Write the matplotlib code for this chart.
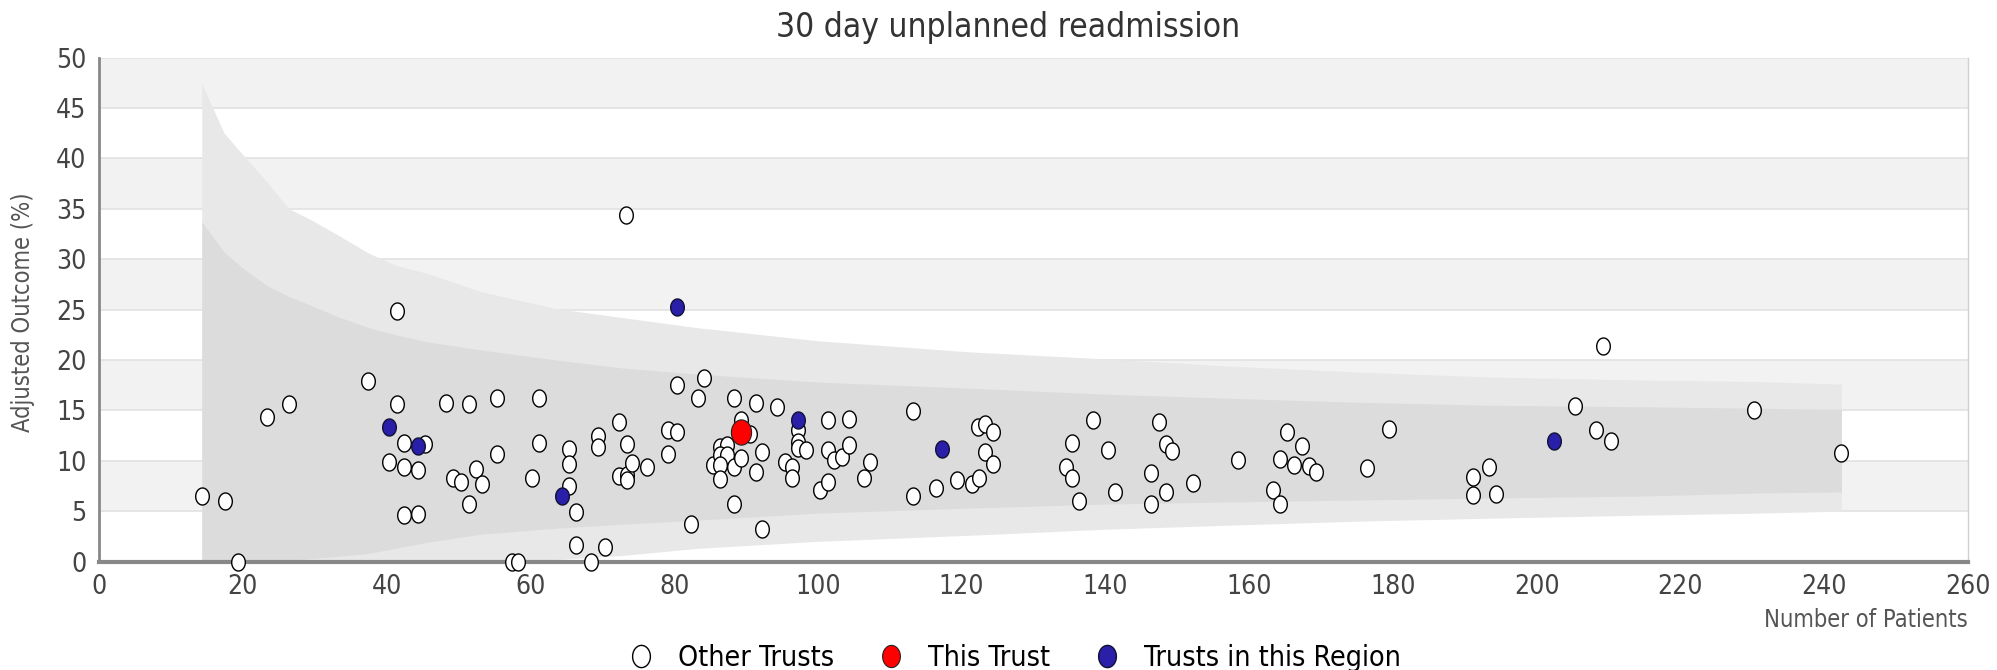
import numpy as np
import matplotlib.pyplot as plt
from matplotlib.path import Path
from matplotlib.lines import Line2D

# funnel limits (number of patients vs adjusted outcome %)
funnel_x = [14.3, 17.4, 20.2, 23.3, 26.4, 29.5, 33.2, 37.5, 41.2, 45.6, 53, 63.5, 72.8,
            83.2, 100, 121, 140, 157, 175, 193.6, 215, 231, 242.4]
outer_hi = [47.4, 42.5, 40.2, 37.7, 35.0, 33.9, 32.4, 30.6, 29.4, 28.6, 26.8, 25.1, 24.2,
            23.2, 21.9, 20.8, 20.1, 19.4, 18.8, 18.3, 18.0, 17.85, 17.6]
inner_hi = [33.7, 30.7, 29.0, 27.4, 26.3, 25.4, 24.3, 23.2, 22.5, 21.8, 21.0, 20.0, 19.2,
            18.6, 17.8, 17.2, 16.6, 16.2, 15.8, 15.5, 15.35, 15.2, 15.1]
inner_lo = [0, 0, 0, 0, 0.1, 0.3, 0.5, 0.8, 1.3, 1.9, 2.7, 3.3, 3.7,
            4.1, 4.8, 5.3, 5.7, 5.9, 6.1, 6.3, 6.5, 6.8, 6.9]
outer_lo = [0, 0, 0, 0, 0, 0, 0, 0, 0, 0, 0, 0.2, 0.6,
            1.3, 2.0, 2.6, 3.2, 3.6, 4.0, 4.3, 4.6, 4.8, 5.0]

other_x = [14.3, 17.5, 19.4, 23.4, 26.4, 37.4, 41.4, 41.4, 42.4, 45.3, 40.3, 42.4, 44.4, 42.4, 44.4,
           48.3, 51.5, 55.4, 61.2, 49.3, 50.3, 52.4, 53.3, 51.5, 55.4, 57.4, 58.3, 60.3, 61.2, 65.4,
           65.4, 65.4, 66.3, 66.3, 68.4, 69.4, 69.4, 70.4, 72.4, 72.3, 73.4, 73.4, 73.3, 73.4, 74.2,
           76.3, 79.1, 80.4, 79.2, 80.4, 82.4, 83.3, 84.2, 85.4, 86.4, 87.3, 86.4, 87.3, 86.4, 86.4,
           88.4, 88.4, 88.4, 89.3, 89.3, 90.5, 91.4, 91.4, 92.3, 92.3, 94.3, 95.5, 96.4, 96.4, 97.3,
           97.3, 97.3, 98.4, 100.3, 101.4, 101.4, 101.4, 102.3, 103.4, 104.4, 104.4, 106.4, 107.3,
           113.3, 113.3, 116.4, 119.4, 121.4, 122.4, 122.3, 123.2, 124.4, 123.2, 124.4, 134.5,
           135.4, 135.4, 136.3, 138.3, 140.4, 141.3, 146.3, 146.3, 147.4, 148.4, 148.4, 149.3,
           152.2, 158.5, 163.3, 164.3, 164.3, 165.2, 166.3, 167.3, 168.3, 169.3, 176.4, 179.4,
           191.2, 191.2, 193.3, 194.4, 205.3, 208.2, 209.2, 210.3, 230.2, 242.3]
other_y = [6.5, 6.0, 0.0, 14.3, 15.6, 17.9, 24.9, 15.6, 11.8, 11.65, 9.9, 9.4, 9.1, 4.6, 4.7,
           15.75, 15.6, 16.2, 16.2, 8.3, 7.9, 9.2, 7.7, 5.7, 10.7, 0.0, 0.0, 8.3, 11.8, 11.2,
           9.7, 7.5, 4.9, 1.6, 0.0, 12.5, 11.4, 1.4, 13.8, 8.5, 8.6, 8.1, 34.4, 11.7, 9.75,
           9.4, 13.0, 12.8, 10.7, 17.5, 3.7, 16.2, 18.2, 9.6, 11.4, 11.55, 10.6, 10.6, 9.6, 8.15,
           9.35, 16.2, 5.7, 14.0, 10.3, 12.65, 15.75, 8.9, 10.9, 3.2, 15.3, 9.9, 9.4, 8.25, 13.0,
           11.9, 11.3, 11.05, 7.1, 14.0, 11.05, 7.9, 10.1, 10.4, 14.1, 11.55, 8.25, 9.9,
           14.96, 6.5, 7.3, 8.1, 7.65, 8.3, 13.3, 13.6, 12.8, 10.9, 9.7, 9.35,
           8.25, 11.8, 6.0, 14.0, 11.05, 6.9, 8.75, 5.7, 13.8, 11.7, 6.9, 11.0,
           7.8, 10.1, 7.1, 10.2, 5.7, 12.8, 9.6, 11.5, 9.5, 8.9, 9.25, 13.1,
           8.4, 6.6, 9.4, 6.7, 15.4, 13.0, 21.4, 12.0, 15.0, 10.8]

region_x = [40.3, 44.4, 64.4, 80.4, 97.3, 117.3, 202.4]
region_y = [13.3, 11.5, 6.5, 25.2, 14.0, 11.2, 12.0]

this_x = [89.3]
this_y = [12.8]

xticks = list(range(0, 261, 20))
yticks = list(range(0, 51, 5))

plt.rcParams['font.family'] = ['DejaVu Sans']
plt.rcParams['font.stretch'] = 'condensed'

fig = plt.figure(figsize=(19.97, 6.7), dpi=100)
ax = fig.add_axes([99 / 1997, 108.5 / 670, 1869 / 1997, 504 / 670])

# alternating bands
for lo in range(5, 50, 10):
    ax.axhspan(lo, lo + 5, color='#f2f2f2', lw=0, zorder=0)
for y in yticks[1:]:
    ax.axhline(y, color='#e2e2e2', lw=1.2, zorder=0.5)

ax.fill_between(funnel_x, outer_lo, outer_hi, color='#e8e8e8', lw=0, zorder=1)
ax.fill_between(funnel_x, inner_lo, inner_hi, color='#dcdcdc', lw=0, zorder=1.1)

# slightly narrow round markers
t = np.linspace(0, 2 * np.pi, 60)
oval = Path(np.column_stack([0.8 * np.cos(t), np.sin(t)]), closed=True)

ax.scatter(other_x, other_y, s=150, marker=oval, facecolor='white', edgecolor='black',
           linewidth=1.0, zorder=3, clip_on=False)
ax.scatter(this_x, this_y, s=330, marker=oval, facecolor='#ff0000', edgecolor='#222222',
           linewidth=0.8, zorder=4)
ax.scatter(region_x, region_y, s=150, marker=oval, facecolor='#2a1fa8', edgecolor='#111133',
           linewidth=1.0, zorder=3)

ax.set_xlim(0, 260)
ax.set_ylim(0, 50)
ax.set_xticks(xticks)
ax.set_yticks(yticks)
ax.tick_params(length=0, labelsize=19, colors='#444444')
ax.tick_params(axis='x', pad=9)
ax.tick_params(axis='y', pad=9)

ax.spines['top'].set_visible(False)
ax.spines['right'].set_color('#d0d0d0')
ax.spines['right'].set_linewidth(1)
ax.spines['left'].set_color('#888888')
ax.spines['left'].set_linewidth(2)
ax.spines['bottom'].set_color('#888888')
ax.spines['bottom'].set_linewidth(3)

fig.text(1008 / 1997, 1 - 27 / 670, '30 day unplanned readmission', fontsize=24,
         color='#333333', ha='center', va='center')
fig.text(23 / 1997, 1 - 312 / 670, 'Adjusted Outcome (%)', fontsize=17, color='#555555',
         rotation=90, ha='center', va='center')
fig.text(1968 / 1997, 1 - 620 / 670, 'Number of Patients', fontsize=17, color='#555555',
         ha='right', va='center')

handles = [
    Line2D([], [], ls='none', marker=oval, ms=16, mfc='white', mec='black', mew=1.0),
    Line2D([], [], ls='none', marker=oval, ms=16, mfc='#ff0000', mec='#222222', mew=0.8),
    Line2D([], [], ls='none', marker=oval, ms=16, mfc='#2a1fa8', mec='#111133', mew=1.0),
]
labels = ['Other Trusts', 'This Trust', 'Trusts in this Region']
fig.legend(handles, labels, loc='center', bbox_to_anchor=(1014 / 1997, 12 / 670), ncol=3,
           frameon=False, fontsize=20.5, handlelength=1.0, handletextpad=0.8,
           columnspacing=1.5, borderpad=0)

fig.savefig('out.png', dpi=100)
